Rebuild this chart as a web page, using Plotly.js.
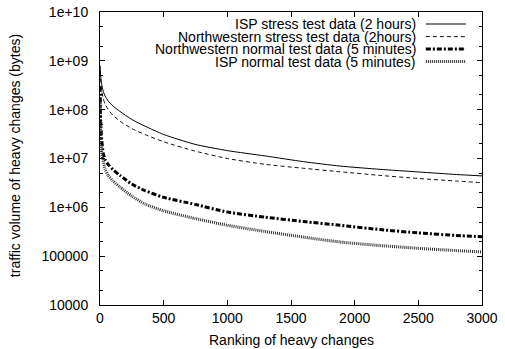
<!DOCTYPE html>
<html>
<head>
<meta charset="utf-8">
<script src="https://cdn.plot.ly/plotly-3.0.1.min.js"></script>
<style>html,body{margin:0;padding:0;background:#fff}#chart{width:505px;height:349px}</style>
</head>
<body>
<div id="chart"></div>
<script>
// Ranking of heavy changes (x)
const ranks = [1, 5, 13, 25, 40, 65, 100, 157, 250, 353, 500, 746, 1000, 1296, 1600, 1885, 2200, 2500, 2800, 3000];
// traffic volume (bytes)
const ispStress = [8e8, 5e8, 3.3e8, 2.4e8, 1.9e8, 1.5e8, 1.2e8, 9.2e7, 6.3e7, 4.6e7, 3.1e7, 1.95e7, 1.45e7, 1.13e7, 8.6e6, 7.0e6, 6.0e6, 5.3e6, 4.7e6, 4.4e6];
const nwStress = [6e8, 3.8e8, 2.5e8, 1.7e8, 1.3e8, 1.0e8, 7.8e7, 5.8e7, 4.1e7, 3.1e7, 2.2e7, 1.42e7, 1.0e7, 7.6e6, 6.3e6, 5.35e6, 4.5e6, 3.9e6, 3.45e6, 3.2e6];
const nwNormal = [3e8, 6e7, 2.5e7, 1.3e7, 9.5e6, 7.5e6, 6.0e6, 4.5e6, 3.0e6, 2.2e6, 1.6e6, 1.15e6, 8.0e5, 6.3e5, 5.1e5, 4.3e5, 3.5e5, 3.0e5, 2.65e5, 2.5e5];
const ispNormal = [2e8, 4e7, 1.3e7, 9e6, 6e6, 4.5e6, 3.5e6, 2.6e6, 1.7e6, 1.17e6, 8.5e5, 5.9e5, 4.3e5, 3.2e5, 2.45e5, 1.95e5, 1.65e5, 1.45e5, 1.3e5, 1.22e5];

const seriesNames = [
  'ISP stress test data (2 hours)',
  'Northwestern stress test data (2hours)',
  'Northwestern normal test data (5 minutes)',
  'ISP normal test data (5 minutes)'
];

const yTickVals = [1e4, 1e5, 1e6, 1e7, 1e8, 1e9, 1e10];
const yTickText = ['10000', '100000', '1e+06', '1e+07', '1e+08', '1e+09', '1e+10'];
const xTickVals = [0, 500, 1000, 1500, 2000, 2500, 3000];
const gridVals = [1e5, 1e6, 1e7, 1e8];
const xTitle = 'Ranking of heavy changes';
const yTitle = 'traffic volume of heavy changes (bytes)';

const styles = [
  {color: '#000', width: 1, dash: 'solid'},
  {color: '#111', width: 1, dash: '4px,3px'},
  {color: '#000', width: 3, dash: '5px,2px,2px,2px'},
  {color: '#333', width: 3, dash: '1px,1px'}
];
const ys = [ispStress, nwStress, nwNormal, ispNormal];

const traces = ys.map((y, i) => ({
  x: ranks, y: y, type: 'scatter', mode: 'lines', name: seriesNames[i],
  line: {color: styles[i].color, width: styles[i].width, dash: styles[i].dash, shape: 'spline', smoothing: 0.6},
  showlegend: false, hoverinfo: 'skip'
}));

const font = {family: 'Liberation Sans, Arial, sans-serif', size: 14, color: '#000'};

const shapes = gridVals.map(v => ({
  type: 'line', xref: 'paper', yref: 'y', x0: 0, x1: 1, y0: Math.log10(v), y1: Math.log10(v),
  line: {color: '#999', width: 1, dash: '1px,2px'}, layer: 'below'
}));

const legendY = [0.959, 0.916, 0.874, 0.831];
const annotations = [];
seriesNames.forEach((n, i) => {
  annotations.push({
    xref: 'paper', yref: 'paper', x: 0.8325, y: legendY[i], xanchor: 'right', yanchor: 'middle',
    text: n, showarrow: false, font: font
  });
  shapes.push({
    type: 'line', xref: 'paper', yref: 'paper', x0: 0.853, x1: 0.958, y0: legendY[i], y1: legendY[i],
    line: {color: styles[i].color, width: styles[i].width, dash: styles[i].dash}
  });
});
annotations.push({
  xref: 'paper', yref: 'paper', x: 0.5, y: -0.1195, xanchor: 'center', yanchor: 'middle',
  text: xTitle, showarrow: false, font: font
});
annotations.push({
  xref: 'paper', yref: 'paper', x: -0.2225, y: 0.508, xanchor: 'center', yanchor: 'middle',
  text: yTitle, textangle: -90, showarrow: false, font: font
});

const layout = {
  width: 505, height: 349,
  margin: {l: 100, r: 23, t: 12, b: 44},
  paper_bgcolor: '#fff', plot_bgcolor: '#fff',
  font: font,
  showlegend: false,
  xaxis: {
    range: [0, 3000], tickmode: 'array', tickvals: xTickVals,
    ticks: 'inside', ticklen: 5, tickcolor: '#000', showline: true, linecolor: '#000', linewidth: 1,
    mirror: 'ticks', showgrid: false, zeroline: false, automargin: false,
    tickfont: font
  },
  yaxis: {
    type: 'log', range: [4, 10], tickmode: 'array', tickvals: yTickVals, ticktext: yTickText,
    ticks: 'inside', ticklen: 5, tickcolor: '#000', showline: true, linecolor: '#000', linewidth: 1,
    mirror: 'ticks', showgrid: false, zeroline: false, automargin: false,
    minor: {dtick: 'D2', ticks: 'inside', ticklen: 3, tickcolor: '#000', showgrid: false},
    ticklabelstandoff: 8,
    tickfont: font
  },
  shapes: shapes,
  annotations: annotations
};

Plotly.newPlot('chart', traces, layout, {staticPlot: true, displayModeBar: false});
</script>
</body>
</html>
